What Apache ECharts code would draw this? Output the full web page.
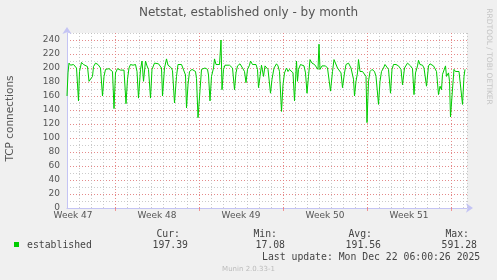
<!DOCTYPE html>
<html><head><meta charset="utf-8">
<script src="https://cdn.jsdelivr.net/npm/echarts@6/dist/echarts.min.js"></script>
<style>html,body{margin:0;padding:0;background:#f0f0f0}#c{width:497px;height:280px}</style>
</head><body><div id="c"></div>
<script>
// hours since the left edge of the graph (33.3 days = 800 h)
const hours = [0,2,4,7,13,17,19,23,25,29,33,37,41,44,47,51,53,57,62,67,71,74,77,84,91,94,97,101,107,114,118,121,124,127,132,
137,140,143,147,150,153,157,160,163,167,170,175,183,189,191,195,199,202,209,211,215,219,222,229,233,237,239,242,245,250,257,259,262,
266,269,276,281,283,286,289,293,295,298,305,307,308,310,313,316,325,331,335,338,341,346,351,355,358,361,365,367,371,378,381,383,386,389,393,396,
402,407,410,414,419,422,425,429,432,435,439,442,445,452,455,459,461,463,467,470,474,477,480,483,486,490,495,499,502,504,506,510,517,521,524,527,531,534,537,
541,545,548,551,555,558,563,568,573,575,578,581,583,586,591,595,598,600,603,606,610,615,618,623,626,629,633,636,639,643,647,650,653,658,663,668,671,675,
681,684,687,691,694,697,701,703,706,711,714,716,719,723,726,729,733,736,739,743,746,749,751,754,757,759,763,765,767,771,774,777,784,787,791,794,796];
const connections = [160,193,207,204,205,203,200,153,195,208,205,204,202,181,179,188,202,207,205,200,160,188,198,199,195,142,193,199,197,197,149,184,200,205,204,
205,195,157,198,210,181,210,203,198,157,198,207,206,200,160,200,213,204,200,196,150,188,205,205,203,190,143,176,195,198,195,185,129,
168,198,200,198,190,153,188,200,213,205,205,204,240,169,198,204,204,200,169,193,203,206,200,195,179,198,204,210,205,205,198,172,188,204,188,203,
198,164,184,200,206,203,195,138,176,193,200,195,198,193,153,210,181,198,205,207,203,193,164,188,212,207,205,203,198,234,198,203,203,200,198,167,195,212,210,
200,198,193,172,193,205,207,200,184,160,181,193,212,195,195,193,188,122,181,195,198,195,188,148,181,195,200,205,204,198,164,198,205,205,203,198,176,200,
207,206,203,199,162,193,203,211,205,204,200,198,174,203,206,208,203,199,195,162,174,169,191,193,203,188,193,181,130,170,198,195,195,193,148,188,198];
const weekLabels = ['Week 47','Week 48','Week 49','Week 50','Week 51'];
const weekLabelHours = [12,180,348,516,684];
const weekStartHours = [96,264,432,600,768];
const seriesName = 'established';
const statHeaders = ['Cur:','Min:','Avg:','Max:'];
const statValues = ['197.39','17.08','191.56','591.28'];
const lastUpdate = 'Last update: Mon Dec 22 06:00:26 2025';

const RED = 'rgba(240,110,110,0.7)';
const GRAY = 'rgba(185,185,185,0.75)';
const AXIS = '#c4c4f4';
const sans = 'DejaVu Sans';
const mono = 'DejaVu Sans Mono';

const chart = echarts.init(document.getElementById('c'), null, {renderer:'canvas'});
const headerRight = [180,277,372,469];
const valueRight = [188,285,381,477];
const graphics = [
  {type:'text', x:248.5, y:13, style:{text:'Netstat, established only - by month', font:'12px "'+sans+'"', fill:'#555', align:'center', verticalAlign:'middle'}},
  {type:'text', x:10.5, y:118.5, rotation:Math.PI/2, style:{text:'TCP connections', font:'10.5px "'+sans+'"', fill:'#555', align:'center', verticalAlign:'middle'}},
  {type:'text', x:489, y:56.5, rotation:-Math.PI/2, style:{text:'RRDTOOL / TOBI OETIKER', font:'7.5px "'+sans+'"', fill:'#c4c4c4', align:'center', verticalAlign:'middle'}},
  {type:'rect', shape:{x:14, y:242, width:5, height:5}, style:{fill:'#00cc00'}},
  {type:'text', x:27, y:245, style:{text:seriesName, font:'9.8px "'+mono+'"', fill:'#444', align:'left', verticalAlign:'middle'}},
  {type:'text', x:262, y:257, style:{text:lastUpdate, font:'9.8px "'+mono+'"', fill:'#444', align:'left', verticalAlign:'middle'}},
  {type:'text', x:248.5, y:269, style:{text:'Munin 2.0.33-1', font:'7px "'+sans+'"', fill:'#bbb', align:'center', verticalAlign:'middle'}}
];
statHeaders.forEach((t,i)=>graphics.push({type:'text', x:headerRight[i], y:234, style:{text:t, font:'9.8px "'+mono+'"', fill:'#444', align:'right', verticalAlign:'middle'}}));
statValues.forEach((t,i)=>graphics.push({type:'text', x:valueRight[i], y:245, style:{text:t, font:'9.8px "'+mono+'"', fill:'#444', align:'right', verticalAlign:'middle'}}));

chart.setOption({
  backgroundColor:'#f0f0f0',
  animation:false,
  grid:{left:67, top:33, width:400, height:175, show:true, backgroundColor:'#fff', borderWidth:0},
  xAxis:[
    {type:'value', min:0, max:800, interval:24,
     axisLine:{show:true, lineStyle:{color:AXIS, width:1}, symbol:['none','arrow'], symbolSize:[7,7], symbolOffset:[0,6]},
     axisTick:{show:false}, axisLabel:{show:false},
     splitLine:{show:true, lineStyle:{color:GRAY, type:[1,2], width:1}}},
    {type:'value', min:0, max:800, position:'bottom',
     axisLine:{show:false},
     axisTick:{show:true, customValues:weekStartHours, length:3, lineStyle:{color:RED}},
     axisLabel:{show:true, customValues:weekLabelHours, margin:3, fontFamily:sans, fontSize:9, color:'#555',
       formatter:(v)=>weekLabels[weekLabelHours.indexOf(v)] || ''},
     splitLine:{show:false}}
  ],
  yAxis:[
    {type:'value', min:0, max:250, interval:10,
     axisLine:{show:false}, axisTick:{show:false}, axisLabel:{show:false},
     splitLine:{show:true, lineStyle:{color:GRAY, type:[1,2], width:1}}},
    {type:'value', min:0, max:250, interval:20, position:'left',
     axisLine:{show:true, onZero:false, lineStyle:{color:AXIS, width:1}, symbol:['none','arrow'], symbolSize:[7,7], symbolOffset:[0,6]},
     axisTick:{show:false},
     axisLabel:{show:true, margin:7, fontFamily:sans, fontSize:9, color:'#555', showMaxLabel:false,
       formatter:(v)=> (v % 20 === 0 && v <= 240) ? String(v) : ''},
     splitLine:{show:true, showMaxLine:false, lineStyle:{color:RED, type:[1,2], width:1}}}
  ],
  series:[{
    type:'line', name:seriesName, xAxisIndex:0, yAxisIndex:0,
    data: hours.map((h,i)=>[h, connections[i]]),
    showSymbol:false, symbol:'none', lineStyle:{color:'#00cc00', width:1}, z:5,
    markLine:{silent:true, symbol:'none', label:{show:false}, animation:false,
      lineStyle:{color:RED, type:[1,2], width:1},
      data: weekStartHours.map(h=>({xAxis:h}))}
  }],
  graphic: graphics
});
</script></body></html>
